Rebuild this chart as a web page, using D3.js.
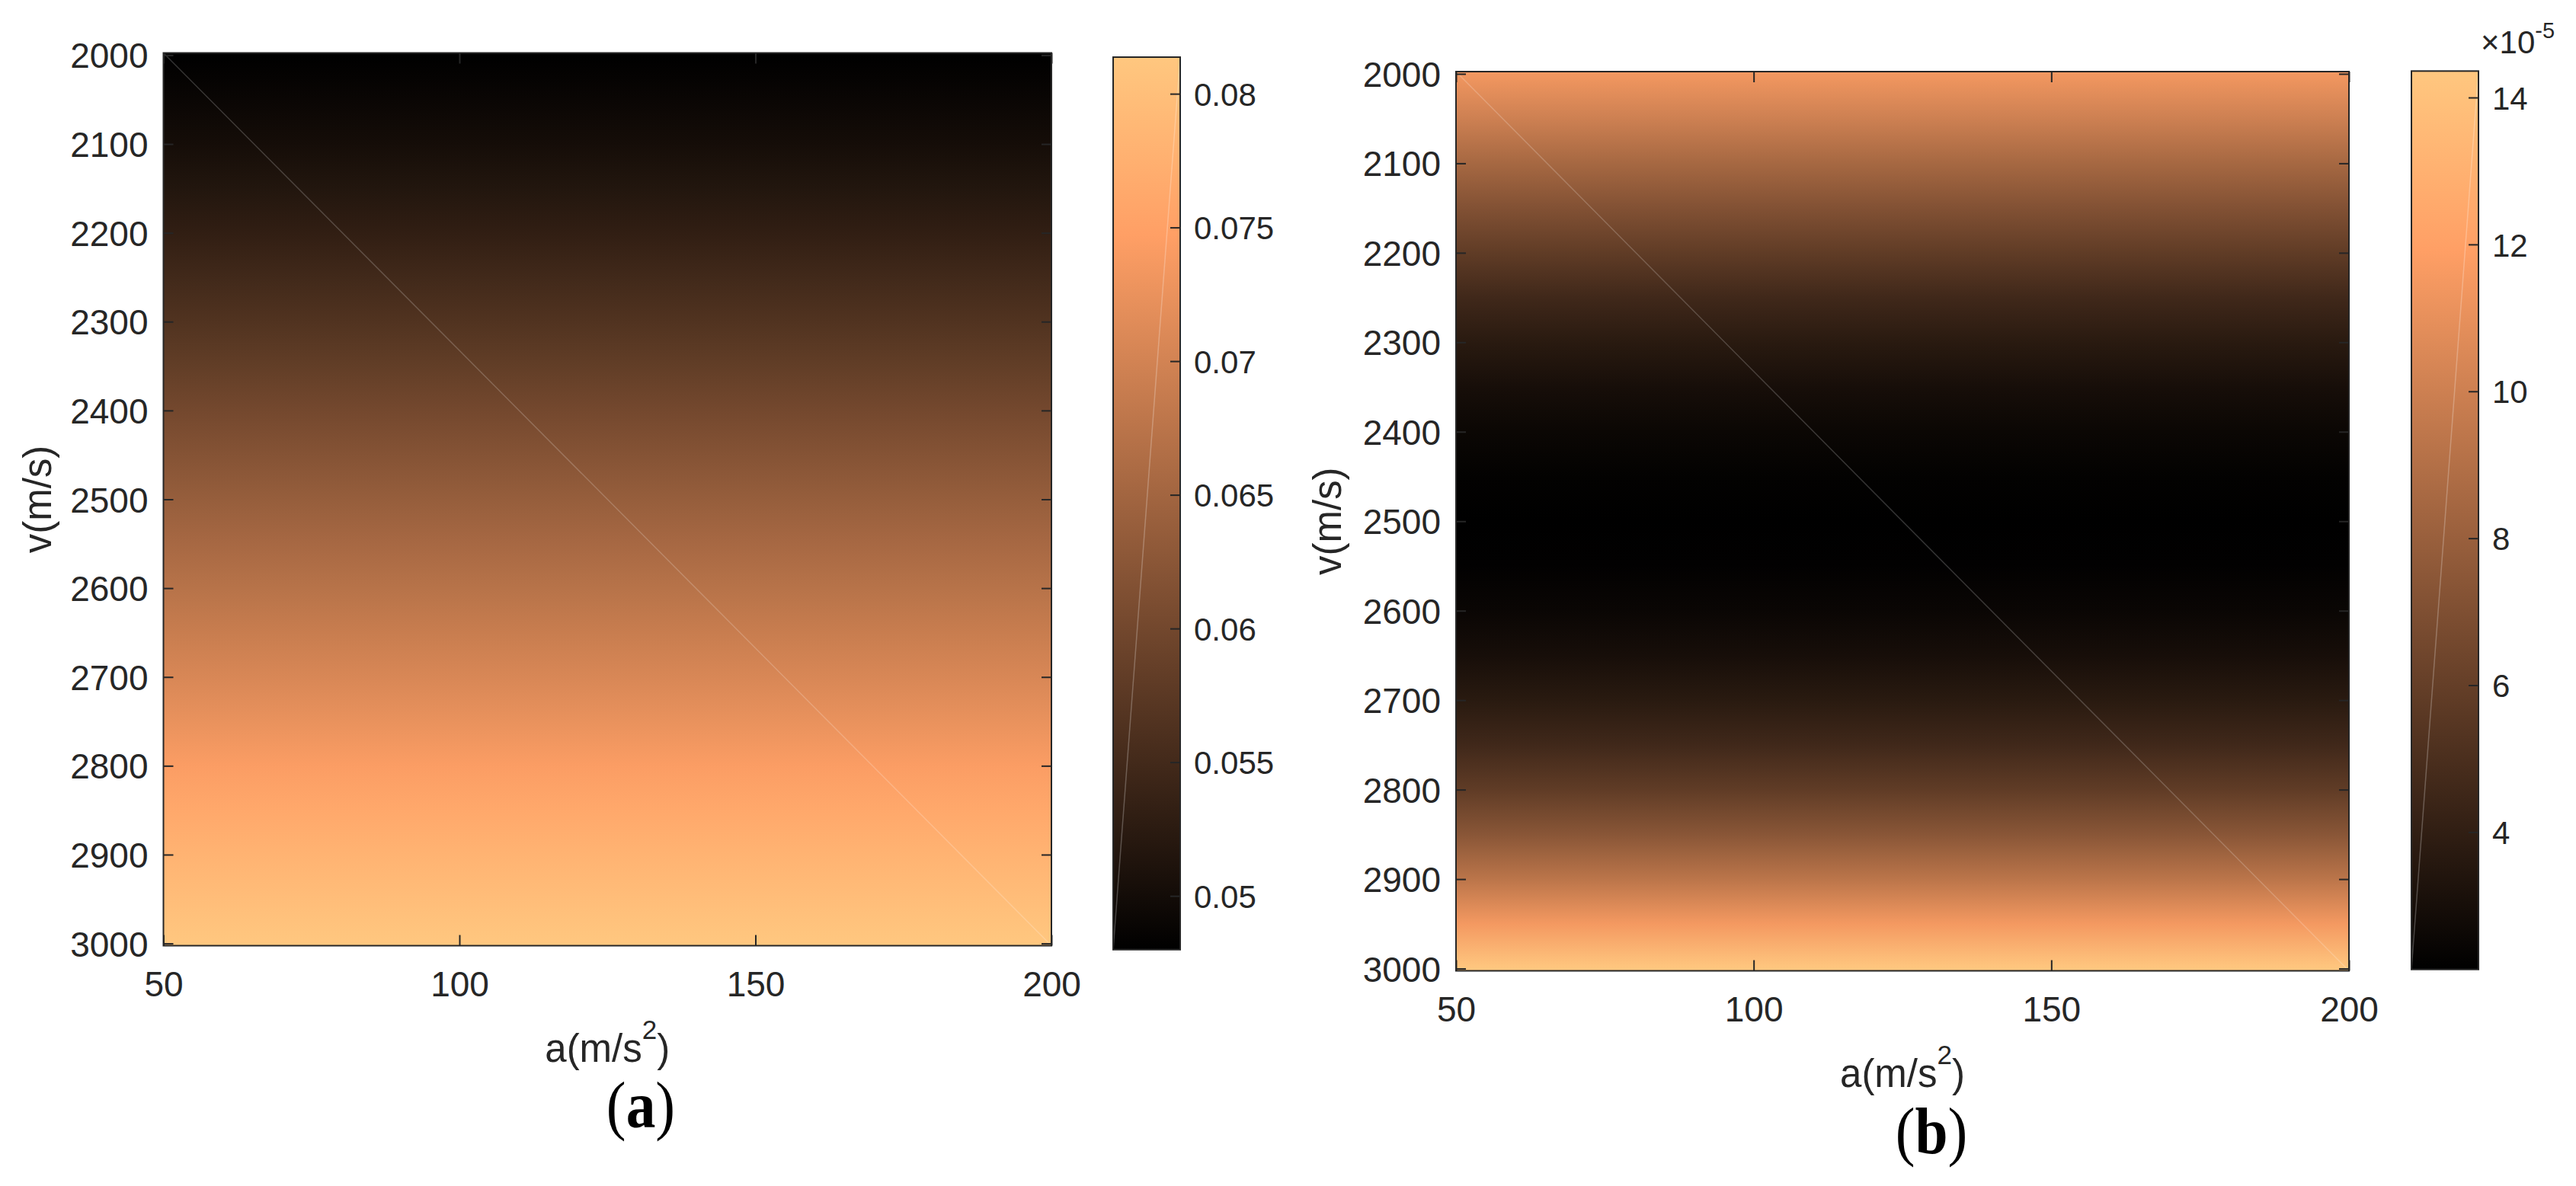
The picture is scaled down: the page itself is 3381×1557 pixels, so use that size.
<!DOCTYPE html>
<html>
<head>
<meta charset="utf-8">
<script src="https://cdn.jsdelivr.net/npm/d3@7"></script>
<style>
  body { margin: 0; background: #fff; }
  svg { display: block; }
</style>
</head>
<body>
<div id="chart"></div>
<script>
// rows of the map: speed v (m/s), the value does not change along a (m/s^2)
const speeds = [2000, 2050, 2100, 2150, 2200, 2250, 2300, 2350, 2400, 2450, 2500,
  2550, 2600, 2650, 2700, 2750, 2800, 2850, 2900, 2950, 3000]
const accelRange = [50, 200]

// panel (a)
const metricA = [0.04799, 0.0490, 0.0502, 0.0516, 0.0531, 0.0548, 0.0565, 0.0583,
  0.0601, 0.0619, 0.0637, 0.0655, 0.0672, 0.0689, 0.0706, 0.0724, 0.0743, 0.0762,
  0.0780, 0.0797, 0.08137]

// panel (b), in units of 1e-5
const metricB = [11.4, 10.0, 8.5, 7.1, 5.8, 4.6, 3.7, 3.0, 2.56, 2.25, 2.13, 2.2,
  2.5, 3.0, 3.7, 4.6, 5.8, 7.4, 9.3, 11.5, 14.36]

const accelTicks = [50, 100, 150, 200]
const speedTicks = [2000, 2100, 2200, 2300, 2400, 2500, 2600, 2700, 2800, 2900, 3000]
const colorTicksA = [0.05, 0.055, 0.06, 0.065, 0.07, 0.075, 0.08]
const colorTicksB = [4, 6, 8, 10, 12, 14]

const AXIS_COLOR = '#262626'
const SANS = '"Liberation Sans", Arial, Helvetica, sans-serif'
const SERIF = '"Liberation Serif", "Times New Roman", Times, serif'

// matlab "copper" colormap
function copper(t) {
  const c = Math.max(0, Math.min(1, t))
  return d3.rgb(255 * Math.min(1, 1.25 * c), 255 * 0.7812 * c, 255 * 0.4975 * c).formatHex()
}

const panels = [
  {
    id: 'a',
    values: metricA,
    plot: { left: 214.5, right: 1380, top: 69.5, bottom: 1241.5 },
    cbar: { left: 1461, right: 1549, top: 75, bottom: 1246.7 },
    colorTicks: colorTicksA,
    colorFormat: d => String(+d.toFixed(3)),
    yLabelX: 67,
    caption: { x: 841, y: 1480 },
    exponent: false,
  },
  {
    id: 'b',
    values: metricB,
    plot: { left: 1911, right: 3083, top: 94, bottom: 1274.5 },
    cbar: { left: 3165, right: 3253, top: 93.3, bottom: 1272.7 },
    colorTicks: colorTicksB,
    colorFormat: d => String(d),
    yLabelX: 1760,
    caption: { x: 2535, y: 1514 },
    exponent: true,
  },
]

const svg = d3
  .select('#chart')
  .append('svg')
  .attr('width', 3381)
  .attr('height', 1557)
  .attr('viewBox', '0 0 3381 1557')
  .attr('font-family', SANS)
  .style('background', '#fff')

svg.append('rect').attr('width', 3381).attr('height', 1557).attr('fill', '#fff')
const defs = svg.append('defs')

panels.forEach(p => renderPanel(p))

function styleAxis(g, fontSize) {
  g.attr('font-family', null).attr('font-size', null).attr('fill', null)
  g.select('.domain').remove()
  g.selectAll('.tick line').attr('stroke', AXIS_COLOR).attr('stroke-width', 2)
  g.selectAll('.tick text').attr('fill', AXIS_COLOR).attr('font-size', fontSize)
}

function renderPanel(p) {
  const { plot, cbar } = p
  const pad = (speeds[1] - speeds[0]) / 20

  const xScale = d3.scaleLinear().domain(accelRange).range([plot.left, plot.right])
  const yScale = d3
    .scaleLinear()
    .domain([speeds[0] - pad, speeds[speeds.length - 1] + pad])
    .range([plot.top, plot.bottom])

  const extent = d3.extent(p.values)
  const norm = d3.scaleLinear().domain(extent).range([0, 1])

  // heat map rows as one vertical gradient, stop per row
  const y0 = yScale(speeds[0])
  const y1 = yScale(speeds[speeds.length - 1])
  const grad = defs
    .append('linearGradient')
    .attr('id', `map-${p.id}`)
    .attr('gradientUnits', 'userSpaceOnUse')
    .attr('x1', 0).attr('x2', 0)
    .attr('y1', y0).attr('y2', y1)
  grad
    .selectAll('stop')
    .data(speeds)
    .join('stop')
    .attr('offset', d => (yScale(d) - y0) / (y1 - y0))
    .attr('stop-color', (d, i) => copper(norm(p.values[i])))

  const g = svg.append('g').attr('class', `panel-${p.id}`)

  g.append('rect')
    .attr('x', xScale(accelRange[0]))
    .attr('y', plot.top)
    .attr('width', xScale(accelRange[1]) - xScale(accelRange[0]))
    .attr('height', plot.bottom - plot.top)
    .attr('fill', `url(#map-${p.id})`)

  // faint seam of the surface triangulation
  g.append('line')
    .attr('x1', xScale(accelRange[0])).attr('y1', plot.top)
    .attr('x2', xScale(accelRange[1])).attr('y2', plot.bottom)
    .attr('stroke', '#fff')
    .attr('stroke-opacity', 0.2)
    .attr('stroke-width', 1.5)

  // axes, ticks pointing inward on all four sides
  g.append('g')
    .attr('transform', `translate(0,${plot.bottom})`)
    .call(d3.axisBottom(xScale).tickValues(accelTicks).tickSize(-14).tickSizeOuter(0).tickPadding(34).tickFormat(d3.format('d')))
    .call(a => styleAxis(a, 46))
  g.append('g')
    .attr('transform', `translate(0,${plot.top})`)
    .call(d3.axisTop(xScale).tickValues(accelTicks).tickSize(-14).tickSizeOuter(0).tickFormat(''))
    .call(a => styleAxis(a, 46))
  g.append('g')
    .attr('transform', `translate(${plot.left},0)`)
    .call(d3.axisLeft(yScale).tickValues(speedTicks).tickSize(-13).tickSizeOuter(0).tickPadding(20).tickFormat(d3.format('d')))
    .call(a => styleAxis(a, 46))
    .call(a => a.selectAll('.tick text').attr('dy', '0.36em'))
  g.append('g')
    .attr('transform', `translate(${plot.right},0)`)
    .call(d3.axisRight(yScale).tickValues(speedTicks).tickSize(-13).tickSizeOuter(0).tickFormat(''))
    .call(a => styleAxis(a, 46))

  g.append('rect')
    .attr('x', plot.left).attr('y', plot.top)
    .attr('width', plot.right - plot.left).attr('height', plot.bottom - plot.top)
    .attr('fill', 'none')
    .attr('stroke', AXIS_COLOR)
    .attr('stroke-width', 2)

  // axis labels
  const xLabel = g.append('text')
    .attr('x', (plot.left + plot.right) / 2)
    .attr('y', plot.bottom + 152)
    .attr('text-anchor', 'middle')
    .attr('font-size', 51)
    .attr('fill', AXIS_COLOR)
  xLabel.append('tspan').text('a(m/s')
  xLabel.append('tspan').attr('font-size', 35).attr('dy', -30).text('2')
  xLabel.append('tspan').attr('dy', 30).text(')')

  g.append('text')
    .attr('transform', `translate(${p.yLabelX},${(plot.top + plot.bottom) / 2}) rotate(-90)`)
    .attr('text-anchor', 'middle')
    .attr('font-size', 51)
    .attr('fill', AXIS_COLOR)
    .text('v(m/s)')

  // caption
  const cap = g.append('text')
    .attr('transform', `translate(${p.caption.x},${p.caption.y}) scale(0.9,1)`)
    .attr('text-anchor', 'middle')
    .attr('font-family', SERIF)
    .attr('font-size', 86)
    .attr('fill', '#000')
  cap.append('tspan').text('(')
  cap.append('tspan').attr('font-weight', 'bold').text(p.id)
  cap.append('tspan').text(')')

  // colour bar
  const cScale = d3.scaleLinear().domain(extent).range([cbar.bottom, cbar.top])
  const cGrad = defs
    .append('linearGradient')
    .attr('id', `cbar-${p.id}`)
    .attr('gradientUnits', 'userSpaceOnUse')
    .attr('x1', 0).attr('x2', 0)
    .attr('y1', cbar.bottom).attr('y2', cbar.top)
  cGrad
    .selectAll('stop')
    .data([0, 0.8, 1])
    .join('stop')
    .attr('offset', d => d)
    .attr('stop-color', d => copper(d))

  g.append('rect')
    .attr('x', cbar.left).attr('y', cScale(extent[1]))
    .attr('width', cbar.right - cbar.left)
    .attr('height', cScale(extent[0]) - cScale(extent[1]))
    .attr('fill', `url(#cbar-${p.id})`)

  g.append('line')
    .attr('x1', cbar.right).attr('y1', cScale(extent[1]))
    .attr('x2', cbar.left).attr('y2', cScale(extent[0]))
    .attr('stroke', '#fff')
    .attr('stroke-opacity', 0.25)
    .attr('stroke-width', 1.5)

  g.append('g')
    .attr('transform', `translate(${cbar.right},0)`)
    .call(d3.axisRight(cScale).tickValues(p.colorTicks).tickSize(-13).tickSizeOuter(0).tickPadding(18).tickFormat(p.colorFormat))
    .call(a => styleAxis(a, 42))
    .call(a => a.selectAll('.tick text').attr('dy', '0.36em'))

  g.append('rect')
    .attr('x', cbar.left).attr('y', cbar.top)
    .attr('width', cbar.right - cbar.left).attr('height', cbar.bottom - cbar.top)
    .attr('fill', 'none')
    .attr('stroke', AXIS_COLOR)
    .attr('stroke-width', 2)

  if (p.exponent) {
    const ex = g.append('text')
      .attr('x', cbar.right + 3)
      .attr('y', 70)
      .attr('font-size', 42)
      .attr('fill', AXIS_COLOR)
    ex.append('tspan').text('×10')
    ex.append('tspan').attr('font-size', 29).attr('dy', -20).text('-5')
  }
}
</script>
</body>
</html>
